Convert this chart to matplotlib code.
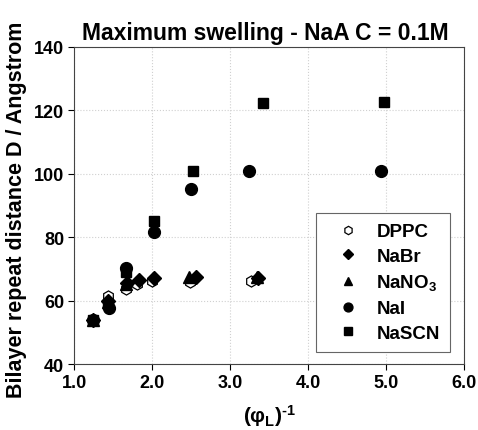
import matplotlib
matplotlib.use("Agg")
import matplotlib.pyplot as plt

plt.rcParams['font.family'] = ['Liberation Sans', 'DejaVu Sans']
plt.rcParams['font.weight'] = 'bold'
plt.rcParams['mathtext.fontset'] = 'custom'
plt.rcParams['mathtext.rm'] = 'Liberation Sans:bold'
plt.rcParams['mathtext.it'] = 'Liberation Sans:bold'
plt.rcParams['mathtext.bf'] = 'Liberation Sans:bold'

series_names = ['DPPC', 'NaBr', 'NaNO$_3$', 'NaI', 'NaSCN']

dppc_x = [1.24, 1.43, 1.66, 1.81, 2.00, 2.49, 3.27]
dppc_y = [54.0, 61.3, 63.8, 65.3, 66.2, 65.9, 66.2]

nabr_x = [1.24, 1.44, 1.68, 1.83, 2.02, 2.56, 3.36]
nabr_y = [54.0, 60.0, 65.5, 66.5, 67.0, 67.3, 67.2]

nano3_x = [1.24, 1.44, 1.66, 2.47, 3.34]
nano3_y = [54.0, 59.5, 65.3, 67.4, 67.3]

nai_x = [1.24, 1.45, 1.67, 2.03, 2.50, 3.24, 4.94]
nai_y = [53.8, 57.8, 70.2, 81.6, 95.3, 101.0, 101.0]

nascn_x = [1.24, 1.44, 1.67, 2.03, 2.52, 3.42, 4.97]
nascn_y = [54.0, 59.0, 69.0, 85.0, 101.0, 122.2, 122.5]

x_ticks = [1.0, 2.0, 3.0, 4.0, 5.0, 6.0]
y_ticks = [40, 60, 80, 100, 120, 140]

fig = plt.figure(figsize=(4.78, 4.31), dpi=100)
ax = fig.add_axes([0.155, 0.153, 0.816, 0.736])

ax.plot(dppc_x, dppc_y, linestyle='none', marker='h', ms=8, mfc='white', mec='black', mew=0.9, label=series_names[0], zorder=3)
ax.plot(nabr_x, nabr_y, linestyle='none', marker='D', ms=7, color='black', label=series_names[1], zorder=3)
ax.plot(nano3_x, nano3_y, linestyle='none', marker='^', ms=8.5, color='black', label=series_names[2], zorder=3)
ax.plot(nai_x, nai_y, linestyle='none', marker='o', ms=8.5, color='black', label=series_names[3], zorder=3)
ax.plot(nascn_x, nascn_y, linestyle='none', marker='s', ms=7.5, color='black', label=series_names[4], zorder=3)

ax.set_xlim(1.0, 6.0)
ax.set_ylim(40, 140)
ax.set_xticks(x_ticks)
ax.set_xticklabels([f'{v:.1f}' for v in x_ticks])
ax.set_yticks(y_ticks)
ax.tick_params(axis='both', labelsize=13, direction='out', length=4, width=0.8, pad=3)
for lab in ax.get_xticklabels() + ax.get_yticklabels():
    lab.set_fontweight('bold')

ax.grid(True, linestyle=':', color='#d0d0d0', linewidth=0.8)
ax.set_axisbelow(True)
for s in ax.spines.values():
    s.set_linewidth(0.8)
    s.set_color('#444444')

ax.set_title('Maximum swelling - NaA C = 0.1M', fontsize=16.5, fontweight='bold', pad=6, x=0.49)
ax.set_xlabel(r'($\varphi_L$)$^{\text{-1}}$', fontsize=15, fontweight='bold', labelpad=8)
ax.set_ylabel('Bilayer repeat distance D / Angstrom', fontsize=15.5, fontweight='bold')
ax.yaxis.set_label_coords(-0.122, 0.49)

leg = ax.legend(loc='lower right', bbox_to_anchor=(0.964, 0.038), borderaxespad=0, fontsize=13.5,
                frameon=True, fancybox=False, edgecolor='#666666', framealpha=1,
                borderpad=0.55, labelspacing=0.4, handlelength=2.3, handletextpad=0.35,
                markerscale=0.75)
leg.get_frame().set_linewidth(0.8)
for t in leg.get_texts():
    t.set_fontweight('bold')

fig.savefig('out.png', dpi=100)
